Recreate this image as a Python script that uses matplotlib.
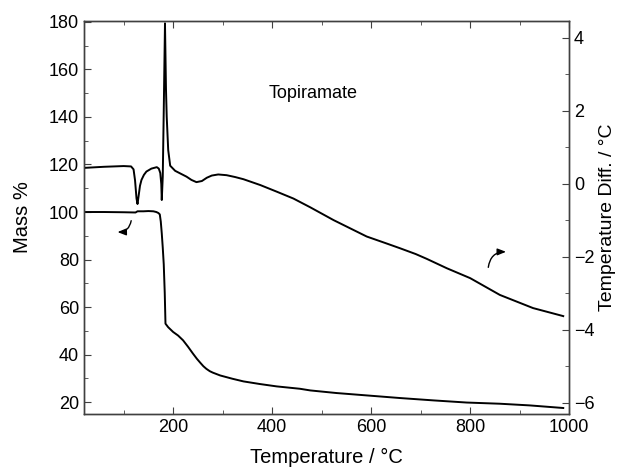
import matplotlib.pyplot as plt
import numpy as np

plt.rcParams["font.family"] = ["Liberation Sans", "DejaVu Sans"]

# TGA curve (left axis, mass %)
tga_temp = [20, 60, 100, 124, 128, 140, 150, 160, 166, 170, 173, 175, 177, 179,
            181, 183, 184.5, 190, 200, 210, 220, 230, 240, 248, 255, 261, 267,
            274, 280, 295, 320, 342, 375, 409, 456, 477, 530, 591, 658, 726,
            793, 860, 920, 988]
tga_mass = [100.0, 100.0, 99.9, 99.8, 100.3, 100.3, 100.4, 100.3, 100.0, 99.6, 99.0,
            96.0, 91.0, 85.0, 78.0, 66.0, 53.0, 51.5, 49.5, 48.0, 46.0, 43.3, 40.4,
            38.2, 36.5, 35.1, 34.0, 33.0, 32.4, 31.2, 29.8, 28.7, 27.6, 26.6,
            25.6, 24.9, 23.8, 22.8, 21.7, 20.7, 19.8, 19.3, 18.6, 17.5]

# DTA curve (right axis, temperature difference)
dta_temp = [20, 60, 100, 115, 120, 123, 126, 128, 130, 133, 136, 141, 146, 156,
            167, 171, 174, 176, 177, 179, 181, 183.5, 185.5, 187, 190, 194, 204,
            214, 227, 237, 247, 258, 268, 278, 291, 308, 325, 342, 376, 409,
            443, 477, 524, 591, 631, 658, 690, 712, 753, 800, 860, 927, 988]
dta_diff = [0.44, 0.47, 0.49, 0.48, 0.40, 0.10, -0.40, -0.55, -0.35, -0.05, 0.11,
            0.25, 0.34, 0.42, 0.46, 0.42, 0.30, 0.0, -0.44, 0.2, 2.0, 4.4, 2.6,
            1.84, 0.93, 0.50, 0.36, 0.29, 0.20, 0.11, 0.05, 0.08, 0.17, 0.23,
            0.26, 0.24, 0.19, 0.13, -0.03, -0.21, -0.40, -0.64, -0.99, -1.44,
            -1.63, -1.76, -1.92, -2.05, -2.31, -2.58, -3.04, -3.40, -3.62]

fig, ax = plt.subplots(figsize=(6.18, 4.72), dpi=100)
fig.subplots_adjust(left=0.136, right=0.921, bottom=0.123, top=0.956)
ax2 = ax.twinx()

ax.plot(tga_temp, tga_mass, color="black", lw=1.4)
ax2.plot(dta_temp, dta_diff, color="black", lw=1.4)

ax.set_xlim(20, 1000)
ax.set_ylim(15, 180.5)
ax2.set_ylim(-6.3, 4.47)

ax.set_xticks(np.arange(200, 1001, 200))
ax.set_xticks(np.arange(100, 1001, 100), minor=True)
ax.set_yticks(np.arange(20, 181, 20))
ax.set_yticks(np.arange(20, 181, 10), minor=True)
ax2.set_yticks(np.arange(-6, 5, 2))
ax2.set_yticks(np.arange(-6, 5, 1), minor=True)

spine_col = "#404040"
for a in (ax, ax2):
    for s in a.spines.values():
        s.set_color(spine_col)
        s.set_linewidth(1.0)
ax.tick_params(axis="both", which="both", direction="in", top=True, color=spine_col,
               labelsize=13)
ax.tick_params(which="major", length=5)
ax.tick_params(which="minor", length=3)
ax2.tick_params(axis="y", which="both", direction="in", color=spine_col, labelsize=13)
ax2.tick_params(which="major", length=5)
ax2.tick_params(which="minor", length=3)

ax.set_xlabel("Temperature / °C", fontsize=14.5, labelpad=9)
ax.set_ylabel("Mass %", fontsize=14.5, labelpad=12)
ax2.set_ylabel("Temperature Diff. / °C", fontsize=14, labelpad=3)

ax.text(0.472, 0.816, "Topiramate", transform=ax.transAxes, ha="center", va="center",
        fontsize=13)

# curved arrows pointing to the relevant axes
ax.annotate("", xy=(82, 91.6), xytext=(116, 97.5),
            arrowprops=dict(arrowstyle="-|>,head_length=0.5,head_width=0.2",
                            color="black", lw=1.0,
                            connectionstyle="arc3,rad=-0.5"))
ax2.annotate("", xy=(878, -1.86), xytext=(836, -2.36),
             arrowprops=dict(arrowstyle="-|>,head_length=0.5,head_width=0.2",
                             color="black", lw=1.0,
                             connectionstyle="arc3,rad=-0.5"))

plt.savefig("out.png", dpi=100)
